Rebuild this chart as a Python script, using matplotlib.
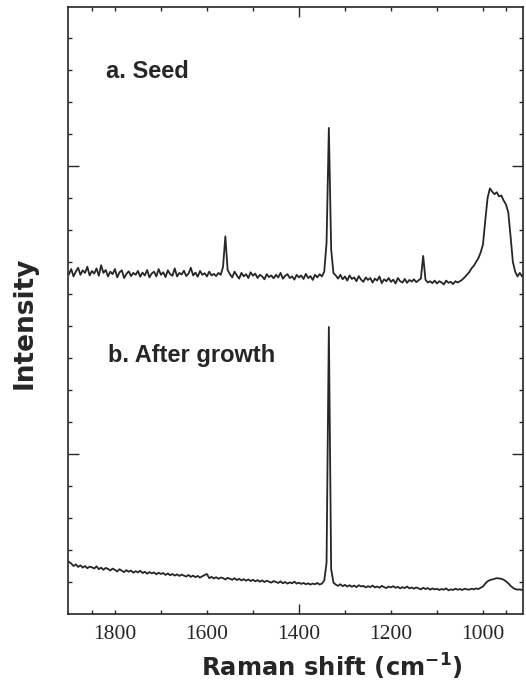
import numpy as np
import matplotlib
matplotlib.use("Agg")
import matplotlib.pyplot as plt

# Raman shift grid (cm-1), 1900 -> 900 in 5 cm-1 steps
shift = np.arange(1900, 895, -5)

# a. Seed (arbitrary intensity units, offset trace)
seed = [
    10.62, 10.78, 10.55, 10.70, 10.82, 10.60, 10.74, 10.66, 10.85, 10.58,
    10.72, 10.64, 10.80, 10.57, 10.90, 10.66, 10.75, 10.55, 10.70, 10.62,
    10.78, 10.52, 10.68, 10.74, 10.50, 10.63, 10.71, 10.56, 10.66, 10.60,
    10.72, 10.54, 10.67, 10.58, 10.75, 10.52, 10.64, 10.70, 10.55, 10.78,
    10.60, 10.68, 10.53, 10.74, 10.62, 10.57, 10.80, 10.55, 10.66, 10.61,
    10.73, 10.56, 10.64, 10.82, 10.58, 10.67, 10.54, 10.72, 10.60, 10.65,
    10.55, 10.70, 10.58, 10.63, 10.56, 10.66, 10.60, 10.85, 11.80, 10.75,
    10.62, 10.52, 10.70, 10.58, 10.48, 10.66, 10.55, 10.62, 10.50, 10.68,
    10.57, 10.64, 10.50, 10.60, 10.55, 10.46, 10.62, 10.53, 10.58, 10.49,
    10.60, 10.52, 10.66, 10.48, 10.57, 10.62, 10.50, 10.55, 10.45, 10.60,
    10.52, 10.58, 10.47, 10.63, 10.50, 10.56, 10.44, 10.60, 10.52, 10.62,
    10.55, 10.70, 11.60, 15.19, 11.40, 10.65, 10.58, 10.48, 10.60, 10.46,
    10.55, 10.42, 10.58, 10.47, 10.52, 10.40, 10.56, 10.45, 10.38, 10.52,
    10.44, 10.50, 10.36, 10.48, 10.42, 10.55, 10.34, 10.46, 10.40, 10.50,
    10.38, 10.45, 10.33, 10.50, 10.40, 10.36, 10.47, 10.35, 10.44, 10.39,
    10.46, 10.37, 10.43, 10.48, 11.19, 10.45, 10.36, 10.40, 10.34, 10.42,
    10.33, 10.40, 10.36, 10.30, 10.42, 10.35, 10.38, 10.31, 10.40, 10.36,
    10.40, 10.45, 10.52, 10.60, 10.68, 10.80, 10.88, 11.00, 11.12, 11.30,
    11.55, 12.30, 13.00, 13.30, 13.20, 13.12, 13.18, 13.05, 13.08, 12.92,
    12.80, 12.55, 11.80, 11.00, 10.70, 10.55, 10.66, 10.55, 10.62, 10.58,
    10.60,
]

# b. After growth
grown = [
    1.63, 1.58, 1.50, 1.55, 1.47, 1.52, 1.45, 1.50, 1.43, 1.48,
    1.46, 1.42, 1.49, 1.40, 1.45, 1.38, 1.44, 1.41, 1.36, 1.42,
    1.38, 1.33, 1.40, 1.35, 1.31, 1.37, 1.32, 1.36, 1.29, 1.34,
    1.30, 1.35, 1.28, 1.32, 1.26, 1.31, 1.27, 1.30, 1.24, 1.29,
    1.25, 1.28, 1.22, 1.27, 1.21, 1.25, 1.20, 1.24, 1.19, 1.23,
    1.20, 1.17, 1.22, 1.16, 1.20, 1.15, 1.19, 1.14, 1.18, 1.22,
    1.25, 1.12, 1.16, 1.11, 1.15, 1.10, 1.14, 1.12, 1.08, 1.13,
    1.10, 1.07, 1.12, 1.06, 1.10, 1.05, 1.09, 1.04, 1.08, 1.03,
    1.07, 1.02, 1.06, 1.01, 1.05, 1.00, 1.04, 1.01, 0.98, 1.03,
    1.00, 0.97, 1.02, 0.96, 1.00, 0.95, 0.99, 0.96, 1.01, 0.95,
    0.98, 0.94, 0.97, 0.93, 0.96, 0.92, 0.95, 0.93, 0.97, 0.92,
    0.95, 1.05, 1.60, 8.97, 1.40, 0.98, 0.92, 0.88, 0.93, 0.87,
    0.91, 0.86, 0.90, 0.85, 0.89, 0.84, 0.90, 0.86, 0.88, 0.83,
    0.87, 0.84, 0.89, 0.83, 0.86, 0.82, 0.88, 0.84, 0.81, 0.86,
    0.83, 0.87, 0.82, 0.85, 0.80, 0.84, 0.81, 0.86, 0.80, 0.83,
    0.79, 0.83, 0.80, 0.77, 0.82, 0.78, 0.81, 0.76, 0.80, 0.77,
    0.79, 0.75, 0.78, 0.76, 0.80, 0.74, 0.77, 0.75, 0.79, 0.76,
    0.78, 0.75, 0.79, 0.77, 0.76, 0.79, 0.77, 0.80, 0.78, 0.82,
    0.86, 0.95, 1.02, 1.06, 1.08, 1.10, 1.12, 1.11, 1.10, 1.07,
    1.02, 0.96, 0.88, 0.82, 0.78, 0.76, 0.77, 0.75, 0.76, 0.74,
    0.75,
]

tick_labels = [1800, 1600, 1400, 1200, 1000]
ink = '#262626'

fig = plt.figure(figsize=(5.26, 6.96), dpi=100)
ax = fig.add_axes([68 / 526, 82 / 696, 455 / 526, 607 / 696])

ax.plot(shift, seed, color=ink, lw=1.3)
ax.plot(shift, grown, color=ink, lw=1.3)

ax.set_xlim(1902, 913)
ax.set_ylim(0, 18.97)

ax.set_xticks(tick_labels)
ax.set_xticklabels([str(t) for t in tick_labels], family='Liberation Serif', fontsize=15.5, color=ink)
ax.set_xticks([1850, 1700, 1500, 1300, 1100, 950], minor=True)
ax.set_yticks([5, 14])
ax.set_yticklabels([])
ax.set_yticks(range(1, 19), minor=True)
ax.tick_params(which='both', direction='in', top=True, right=True, color=ink, width=1.0)
ax.tick_params(axis='x', which='major', length=3, pad=8)
ax.tick_params(axis='x', which='minor', length=3)
ax.tick_params(axis='y', which='major', length=8)
ax.tick_params(axis='y', which='minor', length=3)
# the 1400 tick is drawn longer on bottom and top
for t, v in zip(ax.xaxis.get_major_ticks(), tick_labels):
    if v == 1400:
        t.tick1line.set_markersize(7)
        t.tick2line.set_markersize(7)

for s in ax.spines.values():
    s.set_color(ink)
    s.set_linewidth(1.2)

ax.text(0.0835, 0.883, 'a. Seed', transform=ax.transAxes, family='Liberation Sans',
        fontweight='bold', fontsize=17, color=ink, va='baseline')
ax.text(0.088, 0.415, 'b. After growth', transform=ax.transAxes, family='Liberation Sans',
        fontweight='bold', fontsize=17, color=ink, va='baseline')

fig.text(25 / 526, 1 - 323 / 696, 'Intensity', rotation=90, ha='center', va='center',
         family='DejaVu Sans', fontweight='bold', fontsize=19, color=ink)
fig.text(332 / 526, 1 - 677 / 696, r'Raman shift (cm$^{\mathbf{-1}}$)', ha='center', va='baseline',
         family='DejaVu Sans', fontweight='bold', fontsize=17.5, color=ink)

fig.savefig('out.png', dpi=100)
